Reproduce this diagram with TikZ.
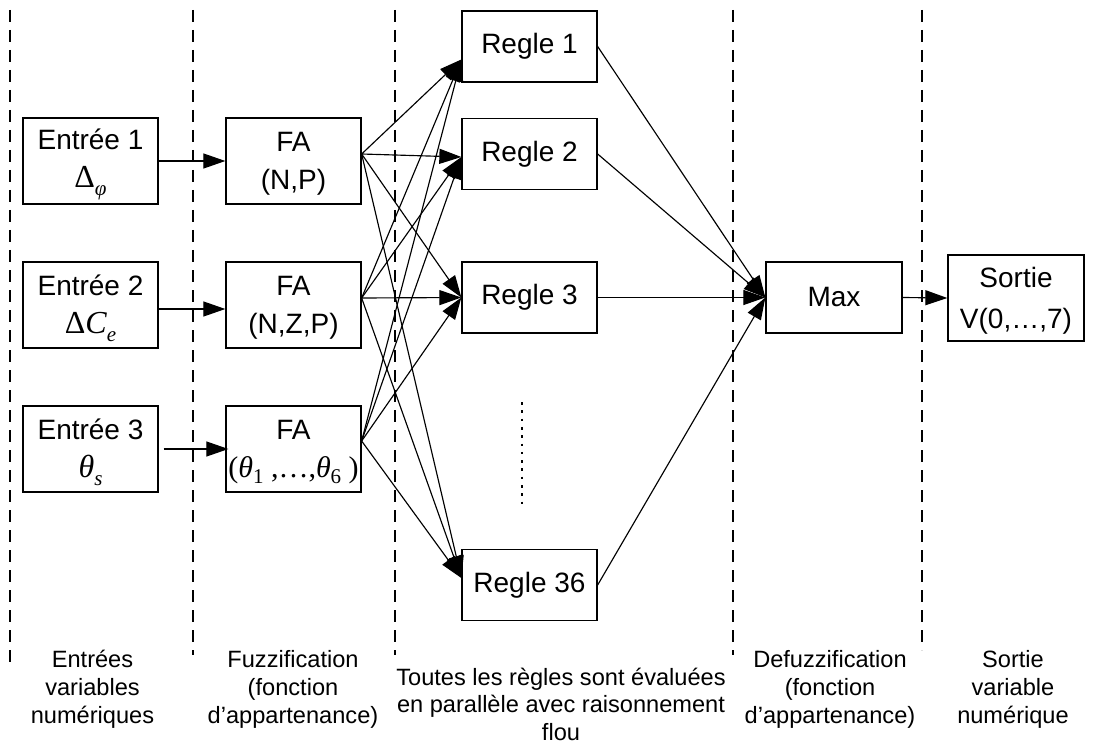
\documentclass[tikz,border=0pt]{standalone}
\usepackage{fontspec}
\setmainfont{Liberation Sans}
\newfontfamily\tms{Liberation Serif}
\usetikzlibrary{arrows.meta}
\newcommand\sbs[2][8pt]{\raisebox{-#1}{\fontsize{21}{21}\selectfont #2}}
\newcommand\upst{\rule{0pt}{28pt}}
\newcommand\dnst{\rule[-9pt]{0pt}{9pt}}
\begin{document}
\begin{tikzpicture}[x=1pt,y=-1pt,
  box/.style={draw, line width=1.3pt, inner sep=0pt, minimum width=135pt, align=center, font=\fontsize{28}{38}\selectfont},
  tall/.style={minimum height=86pt},
  short/.style={minimum height=71pt},
  link/.style={line width=1.15pt, -{Triangle[length=22pt,width=15pt]}},
  sep/.style={line width=1.2pt, dash pattern=on 12pt off 8pt},
  lbl/.style={align=center, inner sep=0pt, anchor=north, font=\fontsize{23.6}{28}\selectfont}]
\useasboundingbox (0,0) rectangle (1103,746);
% separators
\draw[sep] (10,10) -- (10,663);
\draw[sep] (193,10) -- (193,655);
\draw[sep] (395,10) -- (395,655);
\draw[sep] (733,10) -- (733,655);
\draw[sep] (922,10) -- (922,650);
% inputs
\node[box,tall] (e1) at (90.5,161) {\upst Entrée 1\\{\tms\fontsize{32}{38}\selectfont Δ\sbs{\itshape φ}}\dnst};
\node[box,tall] (e2) at (90.5,305) {\upst Entrée 2\\{\tms\fontsize{32}{38}\selectfont Δ\itshape C\sbs{e}}\dnst};
\node[box,tall] (e3) at (90.5,449) {\upst Entrée 3\\{\tms\fontsize{32}{38}\selectfont\itshape θ\sbs{s}}\dnst};
% fuzzification
\node[box,tall] (fa1) at (293.5,161) {\upst FA\\(N,P)\dnst};
\node[box,tall] (fa2) at (293.5,305) {\upst FA\\(N,Z,P)\dnst};
\node[box,tall] (fa3) at (293.5,449) {\upst FA\\{\tms\fontsize{30}{38}\selectfont (\textit{θ}\sbs[6pt]{1} ,…,\textit{θ}\sbs[6pt]{6} )}\dnst};
% rules
\node[box,short] (r1) at (529.5,46.5) {Regle 1};
\node[box,short] (r2) at (529.5,154) {Regle 2};
\node[box,short] (r3) at (529.5,297.5) {Regle 3};
\node[box,short] (r36) at (529.5,585) {Regle 36};
% max and output
\node[box,short,minimum width=136pt] (mx) at (834,297.5) {Max};
\node[box,tall,minimum width=136pt,font=\fontsize{28}{41}\selectfont] (out) at (1016,298) {\upst Sortie\\V(0,…,7)\dnst};
% dots
\draw[line width=2.6pt, dash pattern=on 2.6pt off 5.7pt] (522,402) -- (522,504);
% input arrows
\draw[link] (e1.east) -- (fa1.west);
\draw[link] ([yshift=-4pt]e2.east) -- ([yshift=-4pt]fa2.west);
\draw[link] ([xshift=5pt]e3.east) -- ([xshift=3pt]fa3.west);
% FA to rules
\foreach \f/\s in {fa1/7pt, fa2/7pt, fa3/8pt}{
  \draw[link] ([yshift=\s]\f.east) -- ([yshift=-13pt]r1.west);
  \draw[link] ([yshift=\s]\f.east) -- ([yshift=-3pt]r2.west);
  \draw[link] ([yshift=\s]\f.east) -- (r3.west);
  \draw[link] ([yshift=\s]\f.east) -- ([yshift=7pt]r36.west);
}
% rules to max
\foreach \r in {r1,r2,r3,r36}{
  \draw[link] (\r.east) -- (mx.west);
}
\draw[link] (mx.east) -- (out.west);
% labels
\node[lbl] (l1) at (92.5,645) {\rule{0pt}{22pt}Entrées\\variables\\numériques};
\node[lbl] (l2) at (293,645) {\rule{0pt}{22pt}Fuzzification\\(fonction\\d’appartenance)};
\node[lbl,font=\fontsize{23.6}{27.5}\selectfont] (l3) at (561,663) {\rule{0pt}{22pt}Toutes les règles sont évaluées\\en parallèle avec raisonnement\\flou};
\node[lbl] (l4) at (830,645) {\rule{0pt}{22pt}Defuzzification\\(fonction\\d’appartenance)};
\node[lbl] (l5) at (1013,645) {\rule{0pt}{22pt}Sortie\\variable\\numérique};
\end{tikzpicture}
\end{document}
